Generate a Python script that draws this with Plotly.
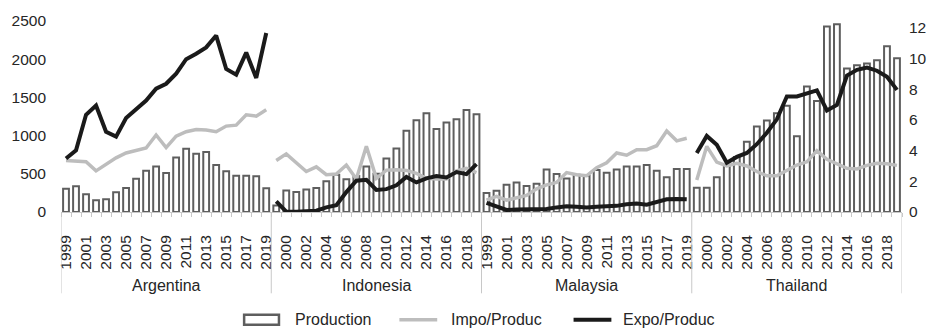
import plotly.graph_objects as go

years = list(range(1999, 2020))
countries = ["Argentina", "Indonesia", "Malaysia", "Thailand"]

production_arg = [305, 338, 232, 155, 167, 257, 313, 434, 540, 596, 511, 712, 828, 763, 785, 614, 532, 476, 476, 467, 310]
production_idn = [85, 283, 262, 294, 313, 403, 489, 430, 470, 594, 500, 699, 832, 1064, 1201, 1291, 1085, 1171, 1214, 1334, 1278]
production_mys = [249, 278, 356, 386, 339, 369, 555, 498, 438, 487, 476, 551, 515, 555, 594, 594, 614, 540, 455, 562, 562]
production_tha = [318, 318, 455, 605, 721, 918, 1120, 1197, 1291, 1390, 991, 1643, 1454, 2429, 2458, 1879, 1922, 1943, 1986, 2171, 2012]

impo_arg = [3.36, 3.32, 3.28, 2.68, 3.10, 3.53, 3.85, 4.02, 4.17, 5.02, 4.20, 4.94, 5.23, 5.38, 5.34, 5.23, 5.60, 5.66, 6.34, 6.25, 6.66]
impo_idn = [3.36, 3.79, 3.21, 2.64, 2.94, 2.43, 2.47, 3.06, 2.15, 4.28, 2.20, 2.73, 2.75, 2.71, 2.52, 2.20, 2.15, 2.15, 2.68, 2.84, 2.57]
impo_mys = [0.77, 1.02, 0.77, 0.94, 1.08, 1.51, 1.77, 1.93, 2.57, 2.43, 2.36, 2.89, 3.21, 3.85, 3.70, 4.06, 4.06, 4.32, 5.28, 4.64, 4.81]
impo_tha = [2.09, 4.28, 3.25, 3.00, 3.17, 3.00, 2.64, 2.36, 2.36, 2.68, 3.06, 3.27, 4.00, 3.43, 3.15, 2.85, 2.81, 3.04, 3.17, 3.15, 3.04]

expo_arg = [3.49, 4.02, 6.34, 6.94, 5.23, 4.91, 6.13, 6.72, 7.26, 8.04, 8.36, 9.02, 9.96, 10.32, 10.73, 11.50, 9.32, 8.95, 10.39, 8.74, 11.67]
expo_idn = [0.70, 0.02, 0.02, 0.03, 0.08, 0.30, 0.45, 1.30, 2.04, 2.10, 1.44, 1.49, 1.74, 2.28, 1.93, 2.19, 2.34, 2.25, 2.60, 2.47, 3.12]
expo_mys = [0.59, 0.34, 0.13, 0.17, 0.19, 0.23, 0.19, 0.30, 0.38, 0.34, 0.30, 0.34, 0.38, 0.40, 0.51, 0.55, 0.47, 0.66, 0.83, 0.85, 0.83]
expo_tha = [3.85, 4.96, 4.38, 3.21, 3.59, 3.85, 4.42, 5.17, 6.04, 7.53, 7.53, 7.74, 7.93, 6.62, 6.98, 8.89, 9.27, 9.42, 9.21, 8.81, 7.96]

production = [production_arg, production_idn, production_mys, production_tha]
impo = [impo_arg, impo_idn, impo_mys, impo_tha]
expo = [expo_arg, expo_idn, expo_mys, expo_tha]

n = len(years)
FONT = "Liberation Sans, Arial, sans-serif"
TXT = "#262626"

# category positions
bx, by = [], []
lx, ly_imp, ly_exp = [], [], []
for g in range(len(countries)):
    for k in range(n):
        idx = g * n + k
        bx.append(idx)
        by.append(production[g][k])
        lx.append(idx)
        ly_imp.append(impo[g][k])
        ly_exp.append(expo[g][k])
    lx.append(None)
    ly_imp.append(None)
    ly_exp.append(None)

fig = go.Figure()
fig.add_trace(go.Bar(x=bx, y=by, name="Production",
                     marker=dict(color="white", line=dict(color="#5e5e5e", width=2)),
                     showlegend=False))
fig.add_trace(go.Scatter(x=lx, y=ly_imp, name="Impo/Produc", yaxis="y2", mode="lines",
                         line=dict(color="#bdbdbd", width=3.5), connectgaps=False, showlegend=False))
fig.add_trace(go.Scatter(x=lx, y=ly_exp, name="Expo/Produc", yaxis="y2", mode="lines",
                         line=dict(color="#1a1a1a", width=4), connectgaps=False, showlegend=False))

total = len(countries) * n
tickvals = list(range(0, total, 2))
ticktext = [str(years[i % n]) for i in tickvals]

PL, PR, PT, PB = 60, 905, 17, 212
W, H = 939, 330
ph = PB - PT
pw = PR - PL

def py(p):
    return (PB - p) / ph

def px(p):
    return (p - PL) / pw

shapes = []
for g in range(len(countries) + 1):
    shapes.append(dict(type="line", xref="x", yref="paper", x0=g * n - 0.5, x1=g * n - 0.5,
                       y0=0, y1=py(295), line=dict(color="#c8c8c8", width=1)))

annotations = []
for g, c in enumerate(countries):
    annotations.append(dict(x=g * n + (n - 1) / 2, y=py(287), xref="x", yref="paper", text=c,
                            showarrow=False, font=dict(size=16, color=TXT, family=FONT),
                            xanchor="center", yanchor="middle"))

# legend
ly = py(322)
shapes.append(dict(type="rect", xref="paper", yref="paper", x0=px(244), x1=px(279),
                   y0=py(327), y1=py(317), fillcolor="white", line=dict(color="#5e5e5e", width=2.5)))
shapes.append(dict(type="line", xref="paper", yref="paper", x0=px(400), x1=px(438),
                   y0=ly, y1=ly, line=dict(color="#bdbdbd", width=3.5)))
shapes.append(dict(type="line", xref="paper", yref="paper", x0=px(575), x1=px(613),
                   y0=ly, y1=ly, line=dict(color="#1a1a1a", width=4)))
for xpos, t in [(293, "Production"), (450, "Impo/Produc"), (623, "Expo/Produc")]:
    annotations.append(dict(x=px(xpos), y=ly, xref="paper", yref="paper", text=t, showarrow=False,
                            xanchor="left", yanchor="middle",
                            font=dict(size=16, color=TXT, family=FONT)))

fig.update_layout(
    width=W, height=H, autosize=False,
    margin=dict(l=PL, r=W - PR, t=PT, b=H - PB, pad=0),
    paper_bgcolor="white", plot_bgcolor="white",
    bargap=0.42,
    font=dict(family=FONT, size=16, color=TXT),
    xaxis=dict(range=[-0.5, total - 0.5], tickmode="array", tickvals=tickvals, ticktext=ticktext,
               tickangle=-90, tickfont=dict(size=15.5, color=TXT), showgrid=False, zeroline=False,
               showline=True, linecolor="#c8c8c8", linewidth=1, ticks="", ticklabelstandoff=16,
               minor=dict(ticks="outside", tickmode="linear", tick0=-0.5, dtick=1, ticklen=4,
                          tickcolor="#c8c8c8", showgrid=False)),
    yaxis=dict(range=[0, 2500], dtick=500, showgrid=False, zeroline=False, showline=False,
               tickfont=dict(size=15.5, color=TXT), ticklabelstandoff=14),
    yaxis2=dict(range=[0, 12.45], tickvals=[0, 2, 4, 6, 8, 10, 12], overlaying="y", side="right",
                showgrid=False, zeroline=False, showline=False,
                tickfont=dict(size=15.5, color=TXT), ticklabelstandoff=6),
    shapes=shapes, annotations=annotations,
)

fig.write_html("out.html")
